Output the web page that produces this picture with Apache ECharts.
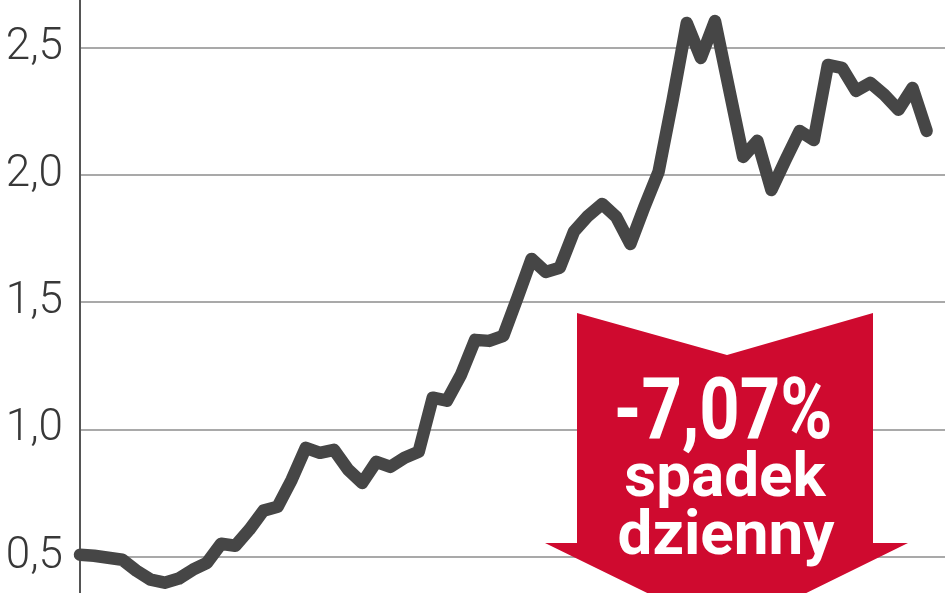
<!DOCTYPE html>
<html>
<head>
<meta charset="utf-8">
<script src="https://cdn.jsdelivr.net/npm/echarts@6/dist/echarts.min.js"></script>
<style>
html,body{margin:0;padding:0;background:#fff;}
#chart{width:948px;height:593px;}
</style>
</head>
<body>
<div id="chart"></div>
<script>
// Price series (one value per period)
const prices = [
  0.508, 0.504, 0.496, 0.488, 0.445, 0.410, 0.398, 0.414, 0.449, 0.476,
  0.551, 0.543, 0.606, 0.681, 0.696, 0.802, 0.928, 0.908, 0.920, 0.842,
  0.790, 0.873, 0.853, 0.889, 0.912, 1.125, 1.113, 1.215, 1.352, 1.348,
  1.368, 1.517, 1.670, 1.619, 1.635, 1.777, 1.839, 1.886, 1.835, 1.729,
  1.875, 2.012, 2.295, 2.597, 2.460, 2.605, 2.338, 2.071, 2.134, 1.941,
  2.059, 2.173, 2.137, 2.432, 2.421, 2.330, 2.362, 2.315, 2.256, 2.342,
  2.173
];
const yTicks = [0.5, 1.0, 1.5, 2.0, 2.5];
const badgeLines = ['-7,07%', 'spadek', 'dzienny'];

const chart = echarts.init(document.getElementById('chart'), null, {renderer: 'canvas'});
const option = {
  animation: false,
  backgroundColor: '#ffffff',
  grid: {left: 80, right: 3, top: 0, bottom: 0},
  xAxis: {
    type: 'value', min: 0, max: 61.3,
    axisLine: {show: false}, axisTick: {show: false},
    axisLabel: {show: false}, splitLine: {show: false}
  },
  yAxis: {
    type: 'value', min: 0.3574, max: 2.6874,
    axisLine: {show: true, lineStyle: {color: '#555555', width: 2}},
    axisTick: {show: false, customValues: yTicks},
    axisLabel: {
      customValues: yTicks,
      margin: 17,
      color: '#383838',
      fontFamily: 'Roboto',
      fontWeight: 300,
      fontSize: 44,
      formatter: function (v) { return v.toFixed(1).replace('.', ','); }
    },
    splitLine: {show: true, lineStyle: {color: '#a9a9a9', width: 2}}
  },
  series: [{
    type: 'line',
    data: prices.map((v, i) => [i, v]),
    symbol: 'none',
    clip: false,
    lineStyle: {color: '#464646', width: 12.5, cap: 'round', join: 'round'},
    z: 3
  }],
  graphic: [
    {
      type: 'polygon', z: 10,
      shape: {points: [[577,313],[727,355],[873,313],[873,543],[908,543],[727,632],[545,543],[577,543]]},
      style: {fill: '#cf0a2f'}
    },
    {
      type: 'text', z: 11, x: 723, y: 459, scaleX: 0.82,
      style: {text: badgeLines[0], fill: '#ffffff', font: 'bold 86px Roboto', align: 'center', verticalAlign: 'bottom'}
    },
    {
      type: 'text', z: 11, x: 725, y: 511,
      style: {text: badgeLines[1], fill: '#ffffff', font: 'bold 62px Roboto', align: 'center', verticalAlign: 'bottom'}
    },
    {
      type: 'text', z: 11, x: 726, y: 569,
      style: {text: badgeLines[2], fill: '#ffffff', font: 'bold 62px Roboto', align: 'center', verticalAlign: 'bottom'}
    }
  ]
};
chart.setOption(option);
</script>
</body>
</html>
